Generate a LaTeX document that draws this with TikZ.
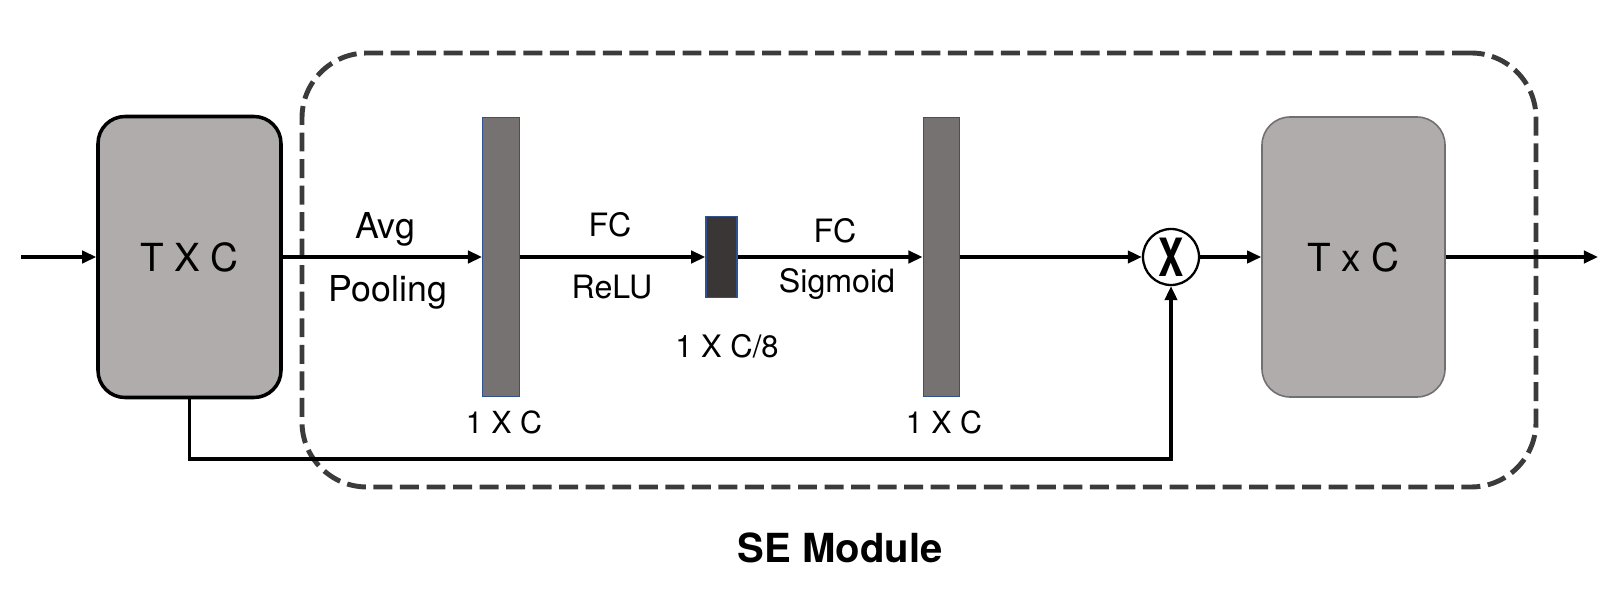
\documentclass[tikz,border=0pt]{standalone}
\usepackage{fontspec}
\setmainfont{TeX Gyre Heros}
\usepackage{tikz}
\usepackage{xcolor}
\usetikzlibrary{arrows.meta}

\definecolor{boxgray}{RGB}{176,172,171}
\definecolor{bargray}{RGB}{118,114,113}
\definecolor{bardark}{RGB}{58,54,54}
\definecolor{barblue}{RGB}{47,82,143}
\definecolor{dashgray}{RGB}{59,59,59}
\definecolor{edgegray}{RGB}{112,112,112}

\begin{document}
\begin{tikzpicture}[
        bigbox/.style={rectangle, rounded corners=0.54cm, draw=black, fill=boxgray, line width=2pt, minimum width=3.66cm, minimum height=5.62cm, font=\fontsize{22}{26}\selectfont},
        outbox/.style={rectangle, rounded corners=0.56cm, draw=edgegray, fill=boxgray, line width=0.9pt, minimum width=3.66cm, minimum height=5.6cm, font=\fontsize{22}{26}\selectfont},
        bar/.style={rectangle, draw=barblue, fill=bargray, line width=0.8pt, minimum width=0.73cm, minimum height=5.58cm, inner sep=0pt},
        smallbar/.style={rectangle, draw=barblue, fill=bardark, line width=0.8pt, minimum width=0.62cm, minimum height=1.62cm, inner sep=0pt},
        multnode/.style={circle, draw=black, fill=white, line width=1.3pt, minimum size=1.12cm, inner sep=0pt, font=\fontsize{30}{30}\selectfont\bfseries},
        sebox/.style={rectangle, rounded corners=1.3cm, draw=dashgray, line width=2.8pt, dash pattern=on 10.8pt off 4.3pt, minimum width=24.68cm, minimum height=8.68cm},
        lbl/.style={anchor=base, inner sep=0pt, font=\fontsize{18.3}{21}\selectfont},
        arrow/.style={-{Triangle[length=8pt,width=7pt]}, line width=1.8pt}
        ]
            \useasboundingbox (0,0) rectangle (32.44,11.92);

            \node[sebox] (se) at (18.38,6.52) {};

            \node[bigbox] (in) at (3.79,6.78) {T X C};
            \node[bar] (v1) at (10.02,6.78) {};
            \node[smallbar] (v2) at (14.43,6.78) {};
            \node[bar] (v3) at (18.83,6.78) {};
            \node[multnode] (mul) at (23.42,6.78) {\scalebox{0.72}[1]{X}};
            \node[outbox] (out) at (27.07,6.78) {T x C};

            \coordinate (start) at (0.42,6.78);
            \coordinate (end) at (31.96,6.78);
            \coordinate (turn) at (3.79,2.74);

            \node[lbl, font=\fontsize{20.3}{24}\selectfont] (avg) at (7.70,7.14) {Avg};
            \node[lbl, font=\fontsize{20.3}{24}\selectfont] (pool) at (7.76,5.88) {Pooling};
            \node[lbl] (fc1) at (12.20,7.18) {FC};
            \node[lbl] (relu) at (12.24,5.94) {ReLU};
            \node[lbl] (fc2) at (16.70,7.06) {FC};
            \node[lbl] (sig) at (16.74,6.06) {Sigmoid};
            \node[lbl, font=\fontsize{17.3}{20}\selectfont] (dim1) at (10.08,3.24) {1 X C};
            \node[lbl, font=\fontsize{17.6}{20}\selectfont] (dim2) at (14.54,4.76) {1 X C/8};
            \node[lbl, font=\fontsize{17.3}{20}\selectfont] (dim3) at (18.88,3.24) {1 X C};
            \node[lbl, font=\fontsize{22.8}{26}\selectfont\bfseries] (title) at (16.80,0.66) {SE Module};

            \draw[arrow] (start) -- (in);
            \draw[arrow] (in) -- (v1);
            \draw[arrow] (v1) -- (v2);
            \draw[arrow] (v2) -- (v3);
            \draw[arrow] (v3) -- (mul);
            \draw[arrow] (mul) -- (out);
            \draw[arrow] (out) -- (end);
            \draw[arrow] (in.south) -- (turn) -| (mul.south);

        \end{tikzpicture}
\end{document}
